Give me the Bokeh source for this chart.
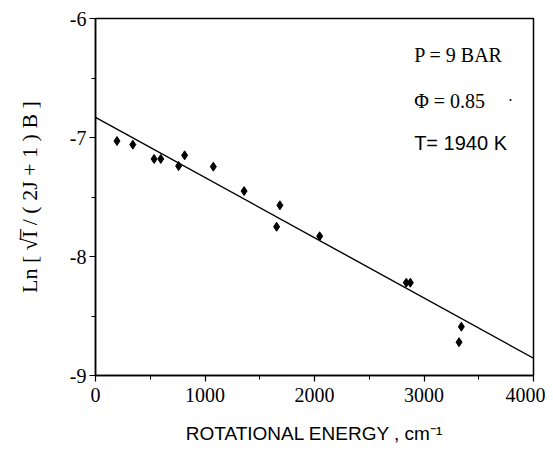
from bokeh.plotting import figure
from bokeh.models import Label, FixedTicker, Range1d
from bokeh.embed import file_html
from bokeh.resources import INLINE

# ---- data ----
energy = [196, 341, 535, 596, 759, 814, 1076, 1357, 1654, 1684, 2047, 2838, 2875, 3320, 3341]
ln_val = [-7.03, -7.06, -7.18, -7.18, -7.24, -7.15, -7.245, -7.45, -7.75, -7.57, -7.83, -8.22, -8.22, -8.72, -8.59]

fit_x = [0, 4050]
fit_y = [-6.83, -8.88]

x_ticks = [0, 1000, 2000, 3000, 4000]
x_tick_labels = ["0", "1000", "2000", "3000", "4000"]
x_minor = [500, 1500, 2500, 3500]
y_ticks = [-9, -8, -7, -6]
y_tick_labels = ["-9", "-8", "-7", "-6"]
y_minor = [-8.5, -7.5, -6.5]

notes = ["P = 9 BAR", "\u03a6 = 0.85", "T= 1940 K"]
x_title = "ROTATIONAL ENERGY , cm\u207b\u00b9"
y_title = "Ln [ \u221aI\u0305 / ( 2J + 1 ) B ]"

SERIF = "Liberation Serif"
SANS = "Liberation Sans"

p = figure(width=545, height=452, x_range=Range1d(0, 4000), y_range=Range1d(-9, -6),
           output_backend="svg", toolbar_location=None,
           min_border_left=95, min_border_right=12, min_border_top=18, min_border_bottom=77)
p.background_fill_color = "white"
p.border_fill_color = "white"
p.grid.visible = False
p.outline_line_color = "black"
p.outline_line_width = 1.5

for ax, ticks, minor, labels in ((p.xaxis[0], x_ticks, x_minor, x_tick_labels),
                                 (p.yaxis[0], y_ticks, y_minor, y_tick_labels)):
    ax.ticker = FixedTicker(ticks=ticks, minor_ticks=minor)
    ax.major_label_overrides = {t: s for t, s in zip(ticks, labels)}
    ax.axis_line_color = "black"
    ax.axis_line_width = 1.5
    ax.major_tick_line_color = "black"
    ax.major_tick_line_width = 1.2
    ax.minor_tick_line_color = "black"
    ax.minor_tick_line_width = 1.0
    ax.major_tick_in = 0
    ax.major_tick_out = 6
    ax.minor_tick_in = 0
    ax.minor_tick_out = 4
    ax.major_label_text_font = SERIF
    ax.major_label_text_font_size = "20px"
    ax.major_label_text_color = "black"
    ax.axis_label_text_color = "black"
    ax.axis_label_text_font_style = "normal"

p.xaxis.major_label_standoff = 6
p.yaxis.major_label_standoff = 3

p.xaxis.axis_label = x_title
p.xaxis.axis_label_text_font = SANS
p.xaxis.axis_label_text_font_size = "19px"
p.xaxis.axis_label_standoff = 18

p.yaxis.axis_label = y_title
p.yaxis.axis_label_text_font = SERIF
p.yaxis.axis_label_text_font_size = "22px"
p.yaxis.axis_label_standoff = 25

# fitted line and data points
p.line(fit_x, fit_y, line_color="black", line_width=1.4)
p.scatter(energy, ln_val, marker="diamond", size=9, fill_color="black", line_color="black")

# annotation texts
p.add_layout(Label(x=2910, y=-6.31, text=notes[0], text_font=SERIF, text_font_size="20px",
                   text_baseline="middle", text_align="left", text_color="black"))
p.add_layout(Label(x=2910, y=-6.69, text=notes[1], text_font=SERIF, text_font_size="20px",
                   text_baseline="middle", text_align="left", text_color="black"))
p.add_layout(Label(x=3790, y=-6.69, text="\u00b7", text_font=SERIF, text_font_size="16px",
                   text_baseline="middle", text_align="center", text_color="black"))
p.add_layout(Label(x=2910, y=-7.05, text=notes[2], text_font=SANS, text_font_size="20px",
                   text_baseline="middle", text_align="left", text_color="black"))

open("out.html", "w").write(file_html(p, INLINE))
